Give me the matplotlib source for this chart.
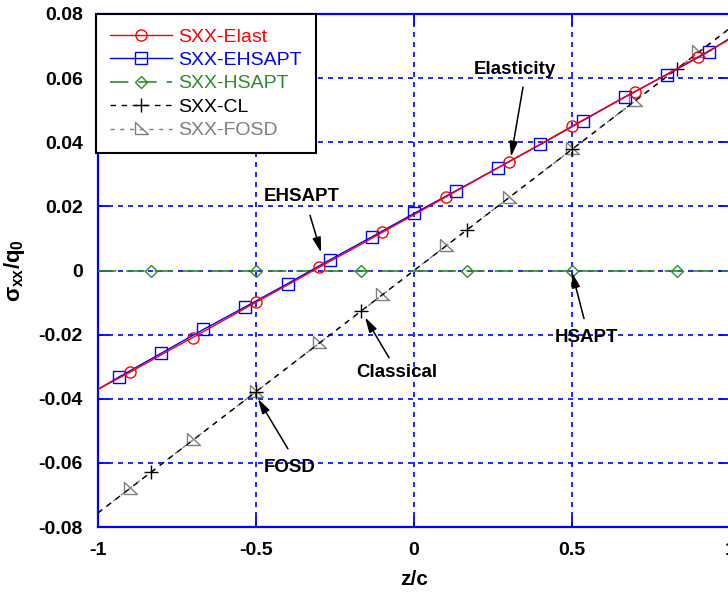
import matplotlib
matplotlib.use("Agg")
import matplotlib.pyplot as plt
from matplotlib.path import Path

plt.rcParams['font.family'] = ['Liberation Sans', 'DejaVu Sans']
plt.rcParams['mathtext.fontset'] = 'custom'
plt.rcParams['mathtext.rm'] = 'Liberation Sans:bold'
plt.rcParams['mathtext.it'] = 'Liberation Sans:bold'
plt.rcParams['mathtext.bf'] = 'Liberation Sans:bold'

# Through-thickness coordinate and normalized bending stress for each theory
z_elast = [-1.0, -0.9, -0.8, -0.7, -0.6, -0.5, -0.4, -0.3, -0.2, -0.1, 0.0,
           0.1, 0.2, 0.3, 0.4, 0.5, 0.6, 0.7, 0.8, 0.9, 1.0]
sxx_elast = [-0.0370, -0.0318, -0.0263, -0.0209, -0.0154, -0.0099, -0.0045,
             0.0010, 0.0064, 0.0119, 0.0174, 0.0229, 0.0284, 0.0339, 0.0394,
             0.0450, 0.0505, 0.0558, 0.0612, 0.0667, 0.0722]

z_ehsapt = [-1.0, -0.9333, -0.8, -0.6667, -0.5333, -0.4, -0.2667, -0.1333, 0.0,
            0.1333, 0.2667, 0.4, 0.5333, 0.6667, 0.8, 0.9333, 1.0]
sxx_ehsapt = [-0.0371, -0.0332, -0.0258, -0.0184, -0.0113, -0.0041, 0.0033,
              0.0105, 0.0178, 0.0249, 0.0321, 0.0393, 0.0467, 0.0541, 0.0611,
              0.0683, 0.0725]

z_hsapt = [-1.0, -0.8333, -0.5, -0.1667, 0.1667, 0.5, 0.8333, 1.0]
sxx_hsapt = [0.0, 0.0, 0.0, 0.0, 0.0, 0.0, 0.0, 0.0]

z_cl = [-1.0, -0.8333, -0.5, -0.1667, 0.1667, 0.5, 0.8333, 1.0]
sxx_cl = [-0.0756, -0.0630, -0.0378, -0.0126, 0.0126, 0.0378, 0.0630, 0.0756]

z_fosd = [-1.0, -0.9, -0.7, -0.5, -0.3, -0.1, 0.1, 0.3, 0.5, 0.7, 0.9, 1.0]
sxx_fosd = [-0.0756, -0.0680, -0.0529, -0.0378, -0.0227, -0.0076, 0.0076,
            0.0227, 0.0378, 0.0529, 0.0680, 0.0756]

x_ticks = [-1, -0.5, 0, 0.5, 1]
x_ticklabels = ['-1', '-0.5', '0', '0.5', '1']
y_ticks = [-0.08, -0.06, -0.04, -0.02, 0.0, 0.02, 0.04, 0.06, 0.08]
y_ticklabels = ['-0.08', '-0.06', '-0.04', '-0.02', '0', '0.02', '0.04', '0.06', '0.08']

BLUE = '#0000ff'
RED = '#ff0000'
GREEN = '#2e8b2e'
GRAY = '#7f7f7f'

# right-angled triangle used for the FOSD symbols
tri = Path([(-0.5, 0.6), (-0.5, -0.45), (0.6, -0.45), (-0.5, 0.6)],
           [Path.MOVETO, Path.LINETO, Path.LINETO, Path.CLOSEPOLY])

fig = plt.figure(figsize=(7.28, 6.03), dpi=100)
ax = fig.add_axes([98 / 728, 1 - 527 / 603, 632 / 728, 513 / 603])

ax.plot(z_fosd, sxx_fosd, color=GRAY, lw=1.0, dashes=(3, 4), marker=tri,
        ms=10, mfc='none', mec=GRAY, mew=1.0, markevery=slice(1, 11),
        label='SXX-FOSD', zorder=3)
ax.plot(z_cl, sxx_cl, color='black', lw=1.0, dashes=(4, 4), marker='+',
        ms=10, mew=1.0, markevery=slice(1, 7), label='SXX-CL', zorder=4)
ax.plot(z_hsapt, sxx_hsapt, color=GREEN, lw=1.2, dashes=(11, 6), marker='D',
        ms=6, mfc='none', mec=GREEN, mew=1.0, markevery=slice(1, 7),
        label='SXX-HSAPT', zorder=3)
ax.plot(z_ehsapt, sxx_ehsapt, color=BLUE, lw=1.0, marker='s', ms=9,
        mfc='none', mec=BLUE, mew=1.0, markevery=slice(1, 16),
        label='SXX-EHSAPT', zorder=5)
ax.plot(z_elast, sxx_elast, color=RED, lw=1.0, marker='o', ms=8,
        mfc='none', mec=RED, mew=1.0, markevery=slice(1, 20, 2),
        label='SXX-Elast', zorder=6)

ax.set_xlim(-1, 1)
ax.set_ylim(-0.08, 0.08)
ax.set_xticks(x_ticks)
ax.set_xticklabels(x_ticklabels)
ax.set_yticks(y_ticks)
ax.set_yticklabels(y_ticklabels)
ax.tick_params(direction='in', length=8, width=1.3, color=BLUE,
               top=True, right=True, labelsize=14, pad=11)
for lab in ax.get_xticklabels() + ax.get_yticklabels():
    lab.set_fontweight('bold')
for sp in ax.spines.values():
    sp.set_color(BLUE)
    sp.set_linewidth(1.6)
ax.grid(True, color=BLUE, linestyle=(0, (3, 3)), linewidth=1.2)
ax.set_axisbelow(True)

ax.set_xlabel('z/c', fontsize=15, fontweight='bold', labelpad=8)
ax.set_ylabel(r'$\sigma_{xx}/q_0$', fontsize=16, labelpad=8)

handles, labels = ax.get_legend_handles_labels()
order = [4, 3, 2, 1, 0]
leg = ax.legend([handles[i] for i in order], [labels[i] for i in order],
                loc='upper left', bbox_to_anchor=(-0.003, 1.0),
                borderaxespad=0, fontsize=14, labelcolor='linecolor',
                fancybox=False, framealpha=1, edgecolor='black',
                handlelength=3.2, handletextpad=0.3, labelspacing=0.3,
                borderpad=0.72, numpoints=1)
leg.get_frame().set_linewidth(1.5)
leg.set_zorder(10)

arrow = dict(arrowstyle='-|>,head_length=0.9,head_width=0.25', color='black',
             lw=1.1, shrinkA=0, shrinkB=0)
notes = [
    ('Elasticity', (0.319, 0.0628), (0.345, 0.0572), (0.307, 0.0355)),
    ('EHSAPT', (-0.354, 0.0231), (-0.329, 0.0172), (-0.294, 0.0056)),
    ('Classical', (-0.055, -0.0318), (-0.079, -0.0272), (-0.155, -0.0146)),
    ('FOSD', (-0.392, -0.0615), (-0.399, -0.0556), (-0.494, -0.0400)),
    ('HSAPT', (0.547, -0.0209), (0.538, -0.0150), (0.500, -0.0006)),
]
for text, txy, tail, tip in notes:
    ax.text(txy[0], txy[1], text, fontsize=13.5, fontweight='bold',
            ha='center', va='center', zorder=12)
    ax.annotate('', xy=tip, xytext=tail, arrowprops=arrow, zorder=12)

fig.savefig('out.png', dpi=100)
